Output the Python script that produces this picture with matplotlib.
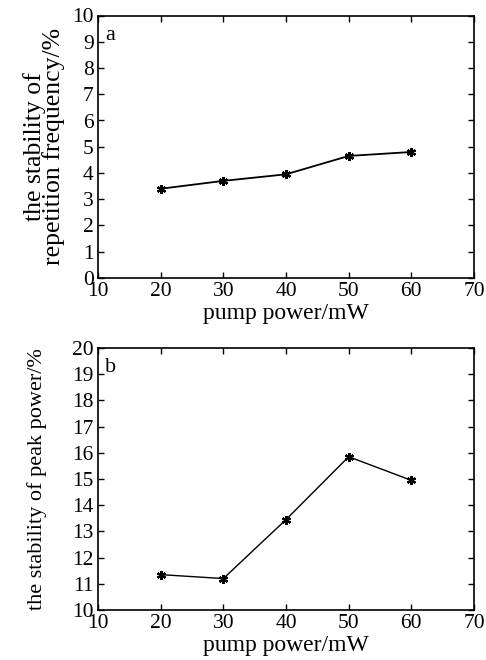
import matplotlib
matplotlib.use("Agg")
import matplotlib.pyplot as plt

pump_power = [20, 30, 40, 50, 60]
rep_freq_stability = [3.4, 3.7, 3.95, 4.65, 4.8]
peak_power_stability = [11.35, 11.2, 13.45, 15.85, 14.95]
x_ticks = [10, 20, 30, 40, 50, 60, 70]
y_ticks_a = list(range(0, 11))
y_ticks_b = list(range(10, 21))

plt.rcParams['font.family'] = ['Liberation Serif', 'DejaVu Serif']

fig = plt.figure(figsize=(4.86, 6.6), dpi=100)
W, H = 486, 660

def make_ax(top, bottom):
    left, right = 98, 474
    return fig.add_axes([left / W, 1 - bottom / H, (right - left) / W, (bottom - top) / H])

ax1 = make_ax(15.5, 278)
ax2 = make_ax(348, 610)

specs = [
    (ax1, rep_freq_stability, y_ticks_a, 'a', 'the stability of\nrepetition frequency/%', 18.5, 0.8, 44, 1.3),
    (ax2, peak_power_stability, y_ticks_b, 'b', 'the stability of peak power/%', 16, 1.0, 37, 1.0),
]
for ax, y, yt, lab, ylabel, yfs, ls, ylx, lw in specs:
    ax.plot(pump_power, y, color='black', lw=lw, marker=(6, 2, 0), ms=6.5, mew=1.6)
    ax.set_xlim(10, 70)
    ax.set_ylim(yt[0], yt[-1])
    ax.set_xticks(x_ticks)
    ax.set_yticks(yt)
    ax.tick_params(direction='in', length=4, width=1, labelsize=15.5, pad=3,
                   top=True, right=True)
    for s in ax.spines.values():
        s.set_linewidth(1.2)
    ax.set_xlabel('pump power/mW', fontsize=17, labelpad=1)
    ax.set_ylabel(ylabel, fontsize=yfs, linespacing=ls, va='center')
    ax.yaxis.set_label_coords((ylx - 98) / 376, 0.5)
    ax.text(0.018, 0.96, lab, transform=ax.transAxes, fontsize=16, va='top', ha='left')

fig.savefig('out.png', dpi=100)
